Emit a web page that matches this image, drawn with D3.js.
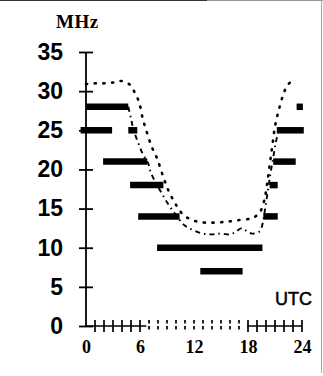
<!DOCTYPE html>
<html>
<head>
<meta charset="utf-8">
<script src="https://cdn.jsdelivr.net/npm/d3@7"></script>
<style>
  html, body { margin: 0; padding: 0; background: #fff; }
  svg { display: block; }
</style>
</head>
<body>
<svg id="chart" width="323" height="376"></svg>
<script>
// Amateur band openings (MHz) by hour of day (UTC)
const bandSegments = [
  { mhz: 28, from: 0.0, to: 4.7 },
  { mhz: 25, from: -0.6, to: 2.9 },
  { mhz: 25, from: 4.7, to: 5.7 },
  { mhz: 21, from: 1.9, to: 6.8 },
  { mhz: 18, from: 4.9, to: 8.6 },
  { mhz: 14, from: 5.8, to: 10.4 },
  { mhz: 10, from: 7.9, to: 19.6 },
  { mhz: 7,  from: 12.7, to: 17.4 },
  { mhz: 14, from: 19.7, to: 21.3 },
  { mhz: 18, from: 20.4, to: 21.3 },
  { mhz: 21, from: 20.8, to: 23.3 },
  { mhz: 25, from: 21.2, to: 24.2 },
  { mhz: 28, from: 23.4, to: 24.1 }
];

// Maximum usable frequency (dotted curve): [hour, MHz]
const mufCurve = [
  [0, 30.9], [1, 31.0], [2, 31.0], [3, 31.1], [3.9, 31.3], [4.9, 30.8],
  [5.5, 29.6], [5.9, 28.6], [6.3, 26.5], [6.8, 24.6], [7.3, 22.9],
  [7.9, 21.4], [8.6, 19.0], [9.2, 17.2], [9.8, 15.9], [10.5, 14.6],
  [11.3, 13.8], [12.5, 13.3], [14, 13.2], [15.5, 13.3], [16.8, 13.5],
  [18.5, 13.8], [19.3, 14.5], [19.8, 16.0], [20.1, 18.0], [20.4, 20.5],
  [20.7, 23.0], [21.0, 25.5], [21.4, 27.5], [21.9, 29.5], [22.4, 30.8],
  [22.8, 31.2]
];

// Optimum working frequency (dash-dot curve): [hour, MHz]
const fotCurve = [
  [4.7, 28.0], [5.0, 26.5], [5.3, 25.0], [5.8, 23.4], [6.3, 22.0],
  [6.9, 20.8], [7.2, 19.6], [7.9, 18.0], [8.5, 16.8], [9.0, 15.8],
  [9.6, 14.8], [10.3, 13.7], [11.0, 12.8], [12.0, 12.2], [13.0, 11.8],
  [14.0, 11.7], [15.0, 11.8], [16.0, 11.7], [16.6, 12.0], [17.3, 12.5],
  [17.9, 12.1], [18.5, 11.8], [19.3, 12.1], [19.7, 13.5], [19.9, 15.0],
  [20.1, 16.5], [20.3, 18.0], [20.5, 19.5], [20.8, 21.5], [21.1, 23.5],
  [21.4, 25.0]
];

const yTicks = [0, 5, 10, 15, 20, 25, 30, 35];
const xLabelTicks = [0, 6, 12, 18, 24];
const hourTicks = d3.range(1, 25);

const svg = d3.select("#chart");

const x = d3.scaleLinear().domain([0, 24]).range([86, 302]);
const y = d3.scaleLinear().domain([0, 35]).range([326, 52]);

// page frame
svg.append("line").attr("x1", 0).attr("x2", 207).attr("y1", 0.5).attr("y2", 0.5)
  .attr("stroke", "#333").attr("stroke-width", 1.2);
svg.append("line").attr("x1", 207).attr("x2", 323).attr("y1", 0.5).attr("y2", 0.5)
  .attr("stroke", "#999").attr("stroke-width", 1);
svg.append("line").attr("x1", 321.5).attr("x2", 321.5).attr("y1", 0).attr("y2", 373)
  .attr("stroke", "#aaa").attr("stroke-width", 1);

// Y axis with crossing ticks
const yAxis = svg.append("g")
  .attr("transform", `translate(${x(0)},0)`)
  .call(d3.axisLeft(y).tickValues(yTicks).tickSize(7).tickPadding(16).tickFormat(d3.format("d")));
yAxis.select(".domain").attr("d", `M0,${y(35)}V${y(0)}`).attr("stroke", "#000").attr("stroke-width", 1.8);
yAxis.selectAll(".tick line").attr("x1", 7).attr("x2", -7).attr("stroke", "#000").attr("stroke-width", 1.8);
yAxis.selectAll(".tick text")
  .attr("font-family", "'Liberation Sans', Arial, sans-serif")
  .attr("font-weight", "bold")
  .attr("font-size", 23)
  .attr("fill", "#000");

// X axis: solid during daylight hours, broken across the night
const xAxis = svg.append("g").attr("transform", `translate(0,${y(0)})`);
xAxis.append("line").attr("x1", x(0)).attr("x2", x(6.7)).attr("stroke", "#000").attr("stroke-width", 1.5);
xAxis.append("line").attr("x1", x(17.9)).attr("x2", x(24)).attr("stroke", "#000").attr("stroke-width", 1.5);
xAxis.selectAll("line.hour")
  .data(hourTicks)
  .join("line")
  .attr("class", "hour")
  .attr("x1", d => x(d)).attr("x2", d => x(d))
  .attr("y1", -6).attr("y2", 6)
  .attr("stroke", "#000")
  .attr("stroke-width", 1.7)
  .attr("stroke-dasharray", d => (d > 6 && d < 18) ? "3.5,2.5" : null);

const xLabels = svg.append("g")
  .attr("transform", `translate(0,${y(0)})`)
  .call(d3.axisBottom(x).tickValues(xLabelTicks).tickSize(0).tickFormat(d3.format("d")));
xLabels.select(".domain").remove();
xLabels.selectAll(".tick text")
  .attr("y", 27).attr("dy", 0)
  .attr("font-family", "'Liberation Serif', 'Times New Roman', serif")
  .attr("font-weight", "bold")
  .attr("font-size", 18)
  .attr("fill", "#000");

// Axis titles
svg.append("text").attr("x", 56).attr("y", 28)
  .attr("font-family", "'Liberation Serif', 'Times New Roman', serif")
  .attr("font-weight", "bold").attr("font-size", 19).attr("letter-spacing", 0.5)
  .text("MHz");
svg.append("text").attr("x", 275).attr("y", 305)
  .attr("font-family", "'Liberation Sans', Arial, sans-serif")
  .attr("font-size", 18).attr("stroke", "#000").attr("stroke-width", 0.5)
  .text("UTC");

// Curves
const line = d3.line().x(d => x(d[0])).y(d => y(d[1])).curve(d3.curveCatmullRom.alpha(0.5));

svg.append("path").datum(mufCurve)
  .attr("d", line)
  .attr("fill", "none").attr("stroke", "#000")
  .attr("stroke-width", 2.6).attr("stroke-linecap", "round")
  .attr("stroke-dasharray", "1.2,7.5");

svg.append("path").datum(fotCurve)
  .attr("d", line)
  .attr("fill", "none").attr("stroke", "#000")
  .attr("stroke-width", 1.9)
  .attr("stroke-dasharray", "5,4,1.5,4");

// Band opening bars
svg.selectAll("line.band")
  .data(bandSegments)
  .join("line")
  .attr("class", "band")
  .attr("x1", d => x(d.from)).attr("x2", d => x(d.to))
  .attr("y1", d => y(d.mhz)).attr("y2", d => y(d.mhz))
  .attr("stroke", "#000").attr("stroke-width", 6.5);
</script>
</body>
</html>
